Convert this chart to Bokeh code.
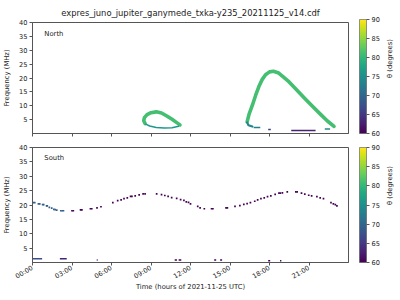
import math
from bokeh.plotting import figure
from bokeh.models import (ColumnDataSource, LinearColorMapper, ColorBar, LinearAxis,
                          FixedTicker, Range1d, Label)
from bokeh.palettes import Viridis256
from bokeh.layouts import column
from bokeh.embed import file_html
from bokeh.resources import INLINE

# ---------------- data ----------------
title_text = "expres_juno_jupiter_ganymede_txka-y235_20211125_v14.cdf"
x_ticks = [0, 3, 6, 9, 12, 15, 18, 21]
x_tick_labels = ["00:00", "03:00", "06:00", "09:00", "12:00", "15:00", "18:00", "21:00"]
y_ticks = [5, 10, 15, 20, 25, 30, 35, 40]
cbar_ticks = [60, 65, 70, 75, 80, 85, 90]
x_label = "Time (hours of 2021-11-25 UTC)"
y_label = "Frequency (MHz)"
cbar_label = "\u03b8 (degrees)"

# North hemisphere emission (time in hours, frequency in MHz, theta in degrees)
north_arc1_t = [8.55, 8.45, 8.5, 8.7, 9.0, 9.4, 9.8, 10.2, 10.6, 10.9, 11.2]
north_arc1_f = [3.6, 4.6, 5.7, 6.8, 7.5, 7.8, 7.4, 6.3, 5.1, 4.1, 3.1]
north_bot1_t = [8.6, 8.9, 9.4, 10.0, 10.6, 11.1]
north_bot1_f = [3.4, 2.7, 2.2, 2.0, 2.1, 2.6]
north_arc2_t = [16.3, 16.45, 16.7, 16.95, 17.2, 17.45, 17.7, 18.0, 18.3, 18.7, 19.0,
                19.4, 20.0, 20.7, 21.3, 21.9, 22.4, 22.9]
north_arc2_f = [4.2, 7.0, 10.2, 13.8, 17.0, 19.5, 21.2, 22.2, 22.4, 21.8, 20.6,
                19.0, 16.0, 12.5, 9.6, 6.8, 4.5, 2.6]
north_hook2_t = [16.3, 16.4, 16.7]
north_hook2_f = [4.0, 3.0, 2.5]
north_dash_t0 = [16.8, 17.9, 19.65, 22.2]
north_dash_t1 = [17.3, 18.1, 21.5, 22.6]
north_dash_f = [2.2, 1.4, 1.1, 1.6]
north_dash_theta = [73, 66, 63, 74]
north_arc_theta = 81
north_bot_theta = 76
north_hook_theta = 74

# South hemisphere emission
south_blue_t = [0.05, 0.17, 0.45, 0.55, 0.77, 0.85, 1.07, 1.12, 1.28, 1.46, 1.62, 1.72,
                1.84, 2.15, 2.25, 2.35]
south_blue_f = [20.8, 20.8, 20.4, 20.4, 20.1, 20.1, 19.7, 19.7, 19.2, 18.9, 18.5, 18.4,
                18.2, 18.0, 18.0, 18.0]
south_blue_theta = 69
south_purple_t = [3.0, 3.1, 3.65, 3.75, 4.4, 4.5, 4.9, 5.2, 6.1, 6.47, 6.73, 6.95, 7.2,
                  7.45, 7.55, 7.8, 8.1, 8.4, 8.55, 9.43, 9.8, 10.05, 10.3, 10.57, 10.95,
                  11.25, 11.5, 11.68, 11.85, 12.0, 12.55, 12.73, 13.05, 13.6, 13.7, 14.7,
                  14.8, 15.38, 15.75, 16.05, 16.3, 16.55, 16.88, 17.1, 17.35, 17.6, 17.85,
                  18.1, 18.43, 18.72, 18.82, 18.98, 19.35, 20.0, 20.1, 20.43, 20.68, 20.98,
                  21.2, 21.6, 21.85, 22.1, 22.67, 22.85, 23.0, 23.12]
south_purple_f = [18.0, 18.0, 18.3, 18.3, 18.7, 18.7, 19.0, 19.4, 20.8, 21.5, 21.8, 22.2,
                  22.5, 23.0, 23.0, 23.2, 23.5, 23.9, 23.9, 23.9, 23.6, 23.3, 23.0, 22.6,
                  22.3, 21.9, 21.6, 21.1, 20.9, 20.4, 19.5, 19.0, 18.7, 18.7, 18.7, 19.0,
                  19.0, 19.5, 19.8, 20.2, 20.5, 20.8, 21.3, 21.8, 22.2, 22.5, 22.9, 23.2,
                  23.7, 24.1, 24.1, 24.2, 24.6, 24.6, 24.6, 24.1, 23.8, 23.4, 23.2, 22.9,
                  22.5, 22.2, 20.8, 20.4, 20.1, 19.7]
south_purple_theta = 60
south_low_t0 = [0.02, 2.08, 4.88, 10.8, 11.1, 13.8, 14.25, 17.9, 18.8]
south_low_t1 = [0.73, 2.6, 4.95, 10.97, 11.3, 13.95, 14.4, 18.05, 18.9]
south_low_f = [1.3, 1.3, 0.9, 0.9, 0.9, 0.9, 0.9, 0.6, 0.6]
south_low_theta = [67, 63, 61, 60, 60, 60, 60, 60, 60]

# ---------------- style ----------------
FONT = "DejaVu Sans"
AX = "#555555"
TXT = "#222222"
mapper = LinearColorMapper(palette=Viridis256, low=60, high=90)
cmap = {"field": "theta", "transform": mapper}


def make_fig(height, top, bottom, show_xlabels, frame_h):
    p = figure(width=400, height=height, x_range=Range1d(0, 24), y_range=Range1d(0, 40),
               output_backend="svg", toolbar_location=None,
               min_border_left=31, min_border_right=50,
               min_border_top=top, min_border_bottom=bottom)
    p.xgrid.visible = False
    p.ygrid.visible = False
    p.outline_line_color = AX
    p.outline_line_width = 1
    p.xaxis.ticker = FixedTicker(ticks=x_ticks)
    p.xaxis.major_label_overrides = {t: l for t, l in zip(x_ticks, x_tick_labels)}
    p.yaxis.ticker = FixedTicker(ticks=y_ticks)
    for ax in (p.xaxis[0], p.yaxis[0]):
        ax.axis_line_color = AX
        ax.major_tick_line_color = AX
        ax.minor_tick_line_color = None
        ax.major_tick_in = 0
        ax.major_tick_out = 3
        ax.major_label_text_font = FONT
        ax.major_label_text_font_size = "6.6px"
        ax.major_label_text_color = TXT
        ax.major_label_standoff = 2
        ax.axis_label_text_font = FONT
        ax.axis_label_text_font_size = "6.8px"
        ax.axis_label_text_font_style = "normal"
        ax.axis_label_text_color = TXT
    p.yaxis.axis_label = y_label
    p.yaxis.axis_label_standoff = 5
    if show_xlabels:
        p.xaxis.axis_label = x_label
        p.xaxis.major_label_orientation = 0.5236
        p.xaxis.axis_label_standoff = -4
    else:
        p.xaxis.major_label_text_color = None
        p.xaxis.major_label_standoff = 0

    cb = ColorBar(color_mapper=mapper, ticker=FixedTicker(ticks=cbar_ticks), width=7,
                  height=frame_h, padding=0, margin=0, location=(11, 0),
                  major_tick_in=0, major_tick_out=3, major_tick_line_color=AX,
                  major_label_text_font=FONT, major_label_text_font_size="6.6px",
                  major_label_text_color=TXT, label_standoff=2,
                  bar_line_color=AX, bar_line_width=0.6,
                  background_fill_alpha=0, border_line_color=None)
    p.add_layout(cb, "right")
    lab = LinearAxis(axis_label=cbar_label, ticker=FixedTicker(ticks=[]),
                     axis_line_color=None, major_tick_line_color=None,
                     minor_tick_line_color=None,
                     axis_label_text_font=FONT, axis_label_text_font_size="6.8px",
                     axis_label_text_font_style="normal", axis_label_text_color=TXT,
                     axis_label_standoff=7, axis_label_orientation=math.pi / 2)
    p.add_layout(lab, "right")
    return p


# ---------------- North ----------------
p1 = make_fig(144, 19, 11, False, 114)
p1.title.text = title_text
p1.title.align = "center"
p1.title.text_font = FONT
p1.title.text_font_size = "8.4px"
p1.title.text_font_style = "normal"
p1.title.text_color = TXT

north_lines = ColumnDataSource(dict(
    xs=[north_arc1_t, north_bot1_t, north_arc2_t, north_hook2_t],
    ys=[north_arc1_f, north_bot1_f, north_arc2_f, north_hook2_f],
    theta=[north_arc_theta, north_bot_theta, north_arc_theta, north_hook_theta],
    lw=[3.6, 1.5, 3.6, 2.2],
))
p1.multi_line("xs", "ys", source=north_lines, line_color=cmap, line_width="lw",
              line_cap="round", line_join="round")
north_dash = ColumnDataSource(dict(x0=north_dash_t0, x1=north_dash_t1, y=north_dash_f,
                                   theta=north_dash_theta))
p1.segment(x0="x0", y0="y", x1="x1", y1="y", source=north_dash, line_color=cmap,
           line_width=1.5)
p1.add_layout(Label(x=0.9, y=36, text="North", text_font=FONT, text_font_size="6.8px",
                    text_color=TXT, text_baseline="middle"))

# ---------------- South ----------------
p2 = make_fig(156, 3, 38, True, 115)
sb = ColumnDataSource(dict(t=south_blue_t, f=south_blue_f,
                           theta=[south_blue_theta] * len(south_blue_t)))
sp = ColumnDataSource(dict(t=south_purple_t, f=south_purple_f,
                           theta=[south_purple_theta] * len(south_purple_t)))
for src in (sb, sp):
    p2.scatter("t", "f", source=src, marker="square", size=1.7, fill_color=cmap,
               line_color=None)
south_low = ColumnDataSource(dict(x0=south_low_t0, x1=south_low_t1, y=south_low_f,
                                  theta=south_low_theta))
p2.segment(x0="x0", y0="y", x1="x1", y1="y", source=south_low, line_color=cmap,
           line_width=1.5)
p2.add_layout(Label(x=0.9, y=36.2, text="South", text_font=FONT, text_font_size="6.8px",
                    text_color=TXT, text_baseline="middle"))

layout = column(p1, p2, spacing=0)
open("out.html", "w").write(file_html(layout, INLINE))
